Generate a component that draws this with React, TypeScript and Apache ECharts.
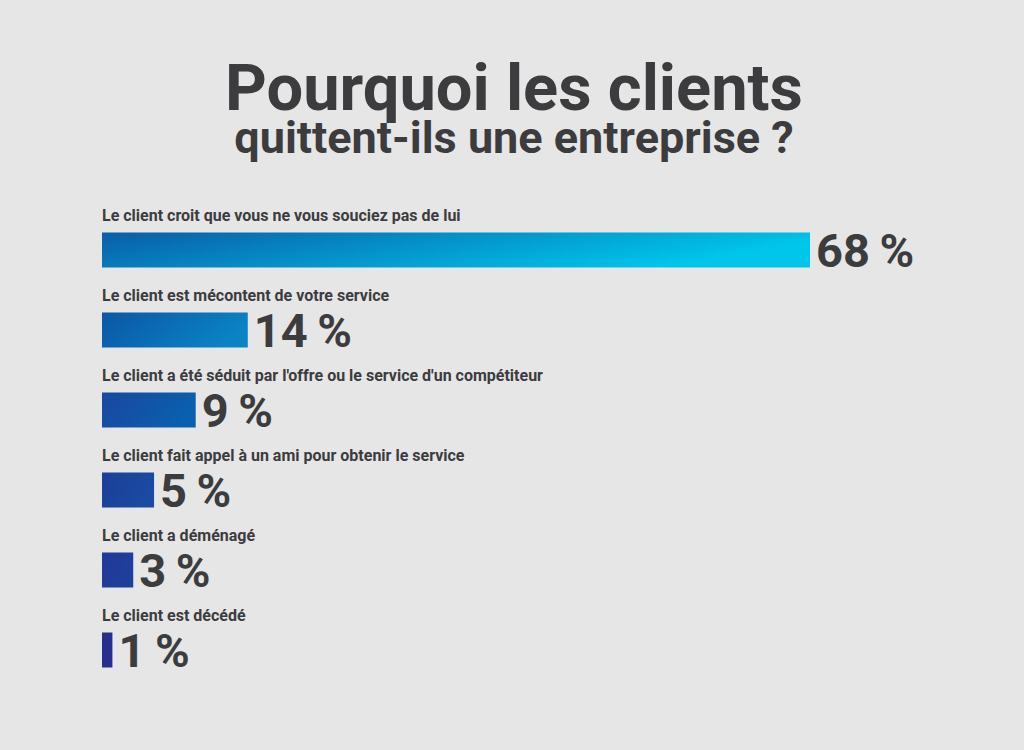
import React, { useEffect, useRef } from "react";
import * as echarts from "echarts";

const categories = [
  "Le client croit que vous ne vous souciez pas de lui",
  "Le client est mécontent de votre service",
  "Le client a été séduit par l'offre ou le service d'un compétiteur",
  "Le client fait appel à un ami pour obtenir le service",
  "Le client a déménagé",
  "Le client est décédé",
];
const values = [68, 14, 9, 5, 3, 1];
const titleLine1 = "Pourquoi les clients";
const titleLine2 = "quittent-ils une entreprise ?";

const barGradients: [string, string][] = [
  ["#0a5da8", "#00c6ec"],
  ["#0b56a5", "#0a82c4"],
  ["#1a47a0", "#0a5fae"],
  ["#1c3f98", "#1a4aa2"],
  ["#22389a", "#1f3f9c"],
  ["#272d8c", "#262f90"],
];

const TEXT = "#3c3c3e";

export default function App() {
  const ref = useRef<HTMLDivElement>(null);
  useEffect(() => {
    if (!ref.current) return;
    const chart = echarts.init(ref.current, undefined, { renderer: "svg" });
    const grad = (i: number) =>
      new echarts.graphic.LinearGradient(0, 0, 1, 0.3, [
        { offset: 0, color: barGradients[i][0] },
        { offset: 1, color: barGradients[i][1] },
      ]);
    chart.setOption({
      animation: false,
      backgroundColor: "#e6e6e6",
      graphic: [
        {
          type: "text",
          x: 514,
          y: 59,
          style: {
            text: `{a|${titleLine1}}\n{b|${titleLine2}}`,
            align: "center",
            verticalAlign: "top",
            fill: TEXT,
            fontFamily: "Roboto",
            fontWeight: "bold",
            rich: {
              a: {
                fontFamily: "Roboto",
                fontWeight: "bold",
                fontSize: 65,
                lineHeight: 57,
                fill: TEXT,
                align: "center",
              },
              b: {
                fontFamily: "Roboto",
                fontWeight: "bold",
                fontSize: 45,
                lineHeight: 42,
                fill: TEXT,
                align: "center",
              },
            },
          },
        },
      ],
      grid: { left: 102, width: 708, top: 210, height: 480, containLabel: false },
      xAxis: { type: "value", min: 0, max: 68, show: false },
      yAxis: {
        type: "category",
        data: categories,
        inverse: true,
        show: false,
      },
      series: [
        {
          type: "bar",
          barWidth: 35,
          data: values.map((v, i) => ({ value: v, itemStyle: { color: grad(i) } })),
          label: {
            show: true,
            position: "right",
            distance: 6,
            formatter: (p: any) => `${p.value}\u2009%`,
            fontFamily: "Roboto",
            fontWeight: "bold",
            fontSize: 47,
            color: TEXT,
          },
          z: 2,
        },
        {
          type: "bar",
          barWidth: 35,
          barGap: "-100%",
          data: values,
          itemStyle: { color: "rgba(0,0,0,0)" },
          label: {
            show: true,
            position: [0, -17],
            align: "left",
            verticalAlign: "middle",
            formatter: "{b}",
            fontFamily: "Roboto",
            fontWeight: "bold",
            fontSize: 16,
            color: TEXT,
          },
          z: 1,
        },
      ],
    });
    return () => chart.dispose();
  }, []);
  return (
    <div
      ref={ref}
      style={{ position: "fixed", left: 0, top: 0, width: 1024, height: 750 }}
    />
  );
}
